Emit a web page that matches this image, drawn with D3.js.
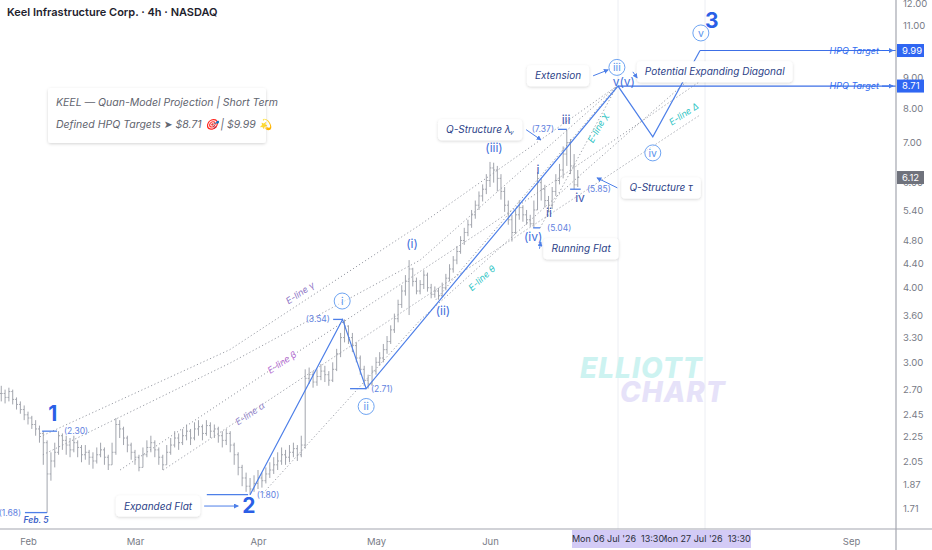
<!DOCTYPE html>
<html>
<head>
<meta charset="utf-8">
<script src="https://cdn.jsdelivr.net/npm/d3@7"></script>
<style>
  body { margin: 0; background: #fff; }
  svg { display: block; }
</style>
</head>
<body>
<script>
var w = 932;
var h = 550;
var plotRight = 896;
var plotBottom = 529;

// one bar per day, starting 25 Jan 2026 (bar i = 25 Jan + i days)
var closes = [
  2.66,2.62,2.68,2.60,2.55,2.50,2.45,2.42,2.36,2.32,
  2.28,2.20,1.95,2.05,2.12,2.26,2.22,2.18,2.14,2.20,
  2.16,2.10,2.12,2.08,2.05,2.10,2.14,2.08,2.02,2.12,
  2.36,2.32,2.24,2.18,2.12,2.08,2.00,2.10,2.16,2.20,
  2.14,2.08,2.02,2.12,2.18,2.24,2.20,2.26,2.30,2.24,
  2.32,2.34,2.28,2.35,2.30,2.32,2.26,2.22,2.28,2.18,
  2.10,2.00,1.92,1.86,1.84,1.88,1.92,1.90,1.95,1.98,
  2.02,2.05,2.10,2.08,2.12,2.15,2.10,2.18,2.82,2.86,
  2.78,2.84,2.90,2.86,2.80,2.92,3.10,3.30,3.45,3.30,
  3.20,3.05,2.92,2.80,2.76,2.90,3.00,3.05,3.15,3.25,
  3.40,3.55,3.75,3.95,4.10,4.30,4.10,3.95,4.05,4.20,
  4.00,3.90,3.95,3.88,4.00,4.15,4.30,4.45,4.60,4.80,
  4.95,5.10,5.30,5.50,5.70,5.85,6.05,6.35,6.30,6.10,
  5.80,5.50,5.20,4.95,5.30,5.45,5.30,5.20,5.12,5.40,
  6.00,5.85,5.60,5.50,5.80,6.05,6.30,6.70,7.00,6.40,
  5.95,6.12
];
var highs = [
  2.74,2.70,2.72,2.70,2.62,2.58,2.54,2.48,2.44,2.40,
  2.35,2.30,2.22,2.12,2.20,2.30,2.28,2.26,2.24,2.26,
  2.22,2.18,2.18,2.14,2.12,2.16,2.20,2.16,2.10,2.20,
  2.42,2.40,2.34,2.26,2.20,2.14,2.10,2.16,2.22,2.26,
  2.22,2.16,2.10,2.18,2.24,2.30,2.28,2.32,2.36,2.32,
  2.38,2.40,2.36,2.40,2.38,2.36,2.34,2.30,2.32,2.30,
  2.20,2.12,2.02,1.96,1.92,1.94,1.98,1.96,2.00,2.04,
  2.08,2.12,2.16,2.14,2.18,2.20,2.18,2.26,2.92,2.94,
  2.90,2.92,2.98,2.96,2.90,3.00,3.16,3.36,3.54,3.46,
  3.36,3.24,3.08,2.96,2.86,2.96,3.06,3.12,3.22,3.32,
  3.46,3.62,3.82,4.04,4.20,4.45,4.32,4.16,4.12,4.28,
  4.24,4.06,4.02,4.00,4.08,4.22,4.38,4.52,4.70,4.88,
  5.04,5.20,5.40,5.60,5.80,5.96,6.20,6.50,6.48,6.40,
  6.20,5.90,5.60,5.30,5.40,5.60,5.50,5.40,5.30,5.60,
  6.25,6.10,5.95,5.70,5.90,6.20,6.45,6.90,7.37,7.10,
  6.70,6.30
];
var lows = [
  2.58,2.56,2.58,2.55,2.50,2.46,2.40,2.36,2.32,2.26,
  2.20,2.02,1.68,1.90,2.00,2.10,2.14,2.10,2.08,2.12,
  2.08,2.04,2.06,2.02,1.99,2.03,2.08,2.02,1.98,2.02,
  2.10,2.24,2.18,2.12,2.06,2.02,1.97,2.00,2.08,2.12,
  2.08,2.02,1.98,2.02,2.10,2.16,2.14,2.18,2.22,2.18,
  2.22,2.26,2.22,2.26,2.24,2.24,2.20,2.16,2.18,2.12,
  2.02,1.94,1.86,1.82,1.80,1.82,1.84,1.85,1.88,1.92,
  1.95,1.98,2.02,2.02,2.04,2.08,2.05,2.08,2.15,2.76,
  2.72,2.74,2.80,2.78,2.74,2.78,2.90,3.06,3.24,3.22,
  3.12,3.00,2.86,2.74,2.71,2.74,2.86,2.96,3.00,3.10,
  3.22,3.36,3.50,3.70,3.88,3.60,4.02,3.90,3.90,3.98,
  3.94,3.84,3.85,3.82,3.86,3.96,4.10,4.24,4.38,4.56,
  4.72,4.88,5.04,5.22,5.40,5.58,5.74,5.90,6.00,5.80,
  5.62,5.36,5.10,4.78,4.92,5.20,5.16,5.10,5.06,5.04,
  5.40,5.60,5.45,5.35,5.42,5.70,5.96,6.10,6.40,6.20,
  5.85,5.90
];
var lastPrice = 6.12;

var priceTicks = [1.71, 1.87, 2.05, 2.25, 2.45, 2.70, 3.00, 3.30, 3.60, 4.00, 4.40, 4.80, 5.40, 6.00, 7.00, 8.00, 9.00, 11.00, 12.00];
var monthTicks = ["2026-02-01", "2026-03-01", "2026-04-01", "2026-05-01", "2026-06-01", "2026-09-01"];

// projected wave path and HPQ targets  [day, price]
var wavePath = [[64, 1.80], [87.5, 3.54], [93.5, 2.71], [162, 8.71], [170.4, 7.16], [181.8, 9.99]];
var targetPrices = [9.99, 8.71];
var targetFrom = [181.8, 162];

// dotted E-lines  [day, price]
var lineGamma = [[10.1, 2.25], [58.9, 3.15], [108, 5.10], [161.7, 8.71]];
var lineUpper = [[10.9, 2.10], [58.9, 2.99], [108, 4.45], [161.7, 8.71]];
var lineBeta = [[31.1, 1.98], [72.1, 3.00], [124.3, 4.96], [182.3, 8.92]];
var lineAlpha = [[42.1, 1.98], [181.8, 7.79]];
var lineTheta = [[67.3, 1.81], [108, 3.53], [150.8, 6.11], [182.3, 9.34]];
var lineChi = [[140.7, 5.04], [161.7, 8.71]];
var lineInner = [[112.3, 3.82], [161.7, 8.71]];

var eLineNames = ["E-line γ", "E-line β", "E-line α", "E-line θ", "E-line χ", "E-line Δ"];
var eLineLabelAt = [[76.7, 3.92], [72.1, 3.00], [64, 2.46], [124.8, 4.15], [156.5, 7.41], [177.9, 7.82]];
var eLineColors = ["#8a72c4", "#b36ad2", "#8f7fc9", "#2cc3c3", "#2cc3c3", "#2cc3c3"];

// wave labels
var degreeNames = ["1", "2", "3"];
var degreeAt = [[13.5, 2.46], [63.7, 1.723], [184.7, 11.2]];
var circledNames = ["i", "ii", "iii", "iv", "v"];
var circledAt = [[87.4, 3.80], [93.5, 2.53], [161.7, 9.36], [170.4, 6.73], [182.0, 10.69]];
var waveNames = ["(i)", "(ii)", "(iii)", "(iv)", "i", "ii", "iii", "iv", "v(v)"];
var waveAt = [[105.8, 4.74], [114.2, 3.66], [128.1, 6.86], [138.8, 4.87], [140.1, 6.30], [143.1, 5.34], [147.8, 7.65], [151.6, 5.66], [163.4, 8.86]];

// pivot price marks
var markPrices = [2.30, 1.68, 1.80, 3.54, 2.71, 5.04, 7.37, 5.85];
var markFrom = [10.7, 6.2, 53.1, 85.1, 89.4, 138.8, 145.6, 148.9];
var markTo = [14.6, 12.0, 63.5, 87.4, 93.5, 140.7, 148.0, 151.8];
var markTextDay = [16.4, 5.2, 65.7, 84.3, 94.7, 142.6, 144.5, 153.5];
var markAnchor = ["start", "end", "start", "end", "start", "start", "end", "start"];

// note boxes
var noteTexts = ["Expanded Flat", "Extension", "Potential Expanding Diagonal", "Q-Structure λᵧ", "Q-Structure τ", "Running Flat"];
var noteAt = [[40.8, 1.723], [145.6, 9.06], [185.4, 9.20], [124.3, 7.36], [172.4, 5.88], [151.9, 4.65]];
var noteTip = [[61.0, 1.723], [159.3, 9.27], [166.6, 8.99], [140.9, 7.08], [156.3, 6.11], [140.9, 4.77]];

var cursorDays = ["2026-07-27", "2026-07-06"];
var cursorText = ["Mon 27 Jul '26", "Mon 06 Jul '26"];

var parseDay = d3.utcParse("%Y-%m-%d");
var base = Date.UTC(2026, 0, 25);
function day(t) { return new Date(base + t * 864e5); }

// piecewise time scale: bars skip the weekends on the original chart
var x = d3.scaleTime()
  .domain(["2026-02-01", "2026-03-01", "2026-04-01", "2026-05-01", "2026-06-01", "2026-07-06", "2026-07-27", "2026-09-01"].map(parseDay))
  .range([28, 135, 258, 376, 490, 618, 705, 851]);

var y = d3.scaleLog()
  .domain([1.71, 12])
  .range([508, 3]);

function pt(d) { return [x(day(d[0])), y(d[1])]; }

var blue = "#4d7fe8";
var font = "Inter, 'Noto Sans', 'DejaVu Sans', sans-serif";

var svg = d3.select("body").append("svg")
  .attr("width", w)
  .attr("height", h)
  .style("font-family", font);

var defs = svg.append("defs");
defs.append("filter").attr("id", "shadow")
  .attr("x", "-20%").attr("y", "-40%").attr("width", "140%").attr("height", "190%")
  .append("feDropShadow")
  .attr("dx", 0).attr("dy", 1).attr("stdDeviation", 1.6)
  .attr("flood-color", "#000").attr("flood-opacity", 0.17);
defs.append("marker").attr("id", "arrow")
  .attr("viewBox", "0 0 6 6").attr("refX", 5).attr("refY", 3)
  .attr("markerWidth", 5).attr("markerHeight", 5).attr("orient", "auto")
  .append("path").attr("d", "M0,0L6,3L0,6Z").attr("fill", blue);
defs.append("clipPath").attr("id", "plot")
  .append("rect").attr("x", 0).attr("y", 0).attr("width", plotRight).attr("height", plotBottom);

var plot = svg.append("g").attr("clip-path", "url(#plot)");

// faint session lines at the cursor dates
plot.selectAll(".vline")
  .data(cursorDays)
  .enter()
  .append("line")
  .attr("x1", function(d) { return x(parseDay(d)); })
  .attr("x2", function(d) { return x(parseDay(d)); })
  .attr("y1", 0)
  .attr("y2", plotBottom)
  .attr("stroke", "#eceef3");

// watermark
plot.append("text")
  .attr("x", 580).attr("y", 378)
  .attr("font-size", 28).attr("font-weight", 800).attr("font-style", "italic")
  .attr("letter-spacing", 1)
  .attr("fill", "#cdf3f1")
  .text("ELLIOTT");
plot.append("text")
  .attr("x", 620).attr("y", 402)
  .attr("font-size", 28).attr("font-weight", 800).attr("font-style", "italic")
  .attr("letter-spacing", 1)
  .attr("fill", "#e6e2f9")
  .text("CHART");

// OHLC bars
var bars = closes.map(function(c, i) {
  return { t: i, high: highs[i], low: lows[i], open: i ? closes[i - 1] : c, close: c };
});

plot.selectAll(".bar")
  .data(bars)
  .enter()
  .append("path")
  .attr("d", function(d) {
    var cx = x(day(d.t));
    return "M" + cx + "," + y(d.high) + "V" + y(d.low) +
           "M" + (cx - 1.4) + "," + y(d.open) + "H" + cx +
           "M" + cx + "," + y(d.close) + "H" + (cx + 1.4);
  })
  .attr("stroke", "#a2a5ad")
  .attr("stroke-width", 1)
  .attr("fill", "none");

// dotted E-lines
var dotted = [lineGamma, lineBeta, lineAlpha, lineTheta, lineChi, lineInner, lineUpper];
var lineGen = d3.line().x(function(d) { return pt(d)[0]; }).y(function(d) { return pt(d)[1]; });

plot.selectAll(".eline")
  .data(dotted)
  .enter()
  .append("path")
  .attr("d", lineGen)
  .attr("fill", "none")
  .attr("stroke", "#9a9da6")
  .attr("stroke-width", 1)
  .attr("stroke-dasharray", "1.2,2.4");

// E-line labels follow the slope of their line
var labelLines = [lineGamma, lineBeta, lineAlpha, lineTheta, lineChi, lineAlpha];
eLineNames.forEach(function(name, i) {
  var l = labelLines[i];
  var at = eLineLabelAt[i];
  var k = 0;
  while (k < l.length - 2 && l[k + 1][0] < at[0]) k++;
  var a = pt(l[k]), b = pt(l[k + 1]);
  var ang = Math.atan2(b[1] - a[1], b[0] - a[0]) * 180 / Math.PI;
  var p = pt(at);
  plot.append("text")
    .attr("transform", "translate(" + p[0] + "," + p[1] + ") rotate(" + ang + ")")
    .attr("text-anchor", "middle")
    .attr("dy", "0.35em")
    .attr("font-size", 9)
    .attr("font-style", "italic")
    .attr("fill", eLineColors[i])
    .text(name);
});

// solid wave path
plot.append("path")
  .attr("d", lineGen(wavePath))
  .attr("fill", "none")
  .attr("stroke", blue)
  .attr("stroke-width", 1.2);

// HPQ target levels
targetPrices.forEach(function(p, i) {
  plot.append("line")
    .attr("x1", x(day(targetFrom[i])))
    .attr("x2", plotRight)
    .attr("y1", y(p))
    .attr("y2", y(p))
    .attr("stroke", "#3d6fe6")
    .attr("stroke-width", 1.2);
});

// pivot marks
markPrices.forEach(function(p, i) {
  plot.append("line")
    .attr("x1", x(day(markFrom[i])))
    .attr("x2", x(day(markTo[i])))
    .attr("y1", y(p))
    .attr("y2", y(p))
    .attr("stroke", blue)
    .attr("stroke-width", 1.3);
  plot.append("text")
    .attr("x", x(day(markTextDay[i])))
    .attr("y", y(p))
    .attr("dy", "0.35em")
    .attr("text-anchor", markAnchor[i])
    .attr("font-size", 8.5)
    .attr("fill", "#5f82e0")
    .text("(" + d3.format(".2f")(p) + ")");
});

plot.append("text")
  .attr("x", x(day(9.1)))
  .attr("y", y(1.633))
  .attr("dy", "0.35em")
  .attr("text-anchor", "middle")
  .attr("font-size", 8.5)
  .attr("font-weight", 600)
  .attr("font-style", "italic")
  .attr("fill", "#3d63c9")
  .text("Feb. 5");

// degree numbers
degreeNames.forEach(function(name, i) {
  var p = pt(degreeAt[i]);
  plot.append("text")
    .attr("x", p[0]).attr("y", p[1])
    .attr("dy", "0.35em")
    .attr("text-anchor", "middle")
    .attr("font-size", 21)
    .attr("font-weight", 700)
    .attr("fill", "#2b5fe6")
    .text(name);
});

// circled minor waves
circledNames.forEach(function(name, i) {
  var p = pt(circledAt[i]);
  plot.append("circle")
    .attr("cx", p[0]).attr("cy", p[1]).attr("r", 8)
    .attr("fill", "#fff").attr("fill-opacity", 0.6)
    .attr("stroke", "#6ea4f2").attr("stroke-width", 1);
  plot.append("text")
    .attr("x", p[0]).attr("y", p[1])
    .attr("dy", "0.35em")
    .attr("text-anchor", "middle")
    .attr("font-size", 10.5)
    .attr("fill", "#5c96ee")
    .text(name);
});

// intermediate waves
waveNames.forEach(function(name, i) {
  var p = pt(waveAt[i]);
  plot.append("text")
    .attr("x", p[0]).attr("y", p[1])
    .attr("dy", "0.35em")
    .attr("text-anchor", "middle")
    .attr("font-size", 12)
    .attr("fill", i >= 4 && i <= 7 ? "#3d55b0" : "#4270dc")
    .text(name);
});

// note boxes with arrows
noteTexts.forEach(function(txt, i) {
  var c = pt(noteAt[i]);
  var tip = pt(noteTip[i]);
  var g = plot.append("g");
  var t = g.append("text")
    .attr("x", c[0]).attr("y", c[1])
    .attr("dy", "0.35em")
    .attr("text-anchor", "middle")
    .attr("font-size", 10)
    .attr("font-style", "italic")
    .attr("fill", "#2c3f88")
    .text(txt);
  var bw = t.node().getComputedTextLength() + 16;
  var bh = 21;
  g.insert("rect", "text")
    .attr("x", c[0] - bw / 2).attr("y", c[1] - bh / 2)
    .attr("width", bw).attr("height", bh)
    .attr("rx", 4)
    .attr("fill", "#fff")
    .attr("filter", "url(#shadow)");
  var sx = tip[0] > c[0] ? c[0] + bw / 2 + 4 : c[0] - bw / 2 - 4;
  plot.append("line")
    .attr("x1", sx).attr("y1", c[1])
    .attr("x2", tip[0]).attr("y2", tip[1])
    .attr("stroke", blue)
    .attr("stroke-width", 1)
    .attr("marker-end", "url(#arrow)");
});

// info box
var info = svg.append("g");
info.append("rect")
  .attr("x", 48).attr("y", 88).attr("width", 218).attr("height", 55)
  .attr("rx", 3)
  .attr("fill", "#fff")
  .attr("filter", "url(#shadow)");
info.append("text")
  .attr("x", 56).attr("y", 106)
  .attr("font-size", 10.5).attr("font-style", "italic").attr("fill", "#62656f")
  .text("KEEL — Quan-Model Projection | Short Term");
info.append("text")
  .attr("x", 56).attr("y", 128)
  .attr("font-size", 10.5).attr("font-style", "italic").attr("fill", "#62656f")
  .text("Defined HPQ Targets ➤  $8.71 🎯 |  $9.99 💫");

// title
svg.append("text")
  .attr("x", 7).attr("y", 16)
  .attr("font-size", 11).attr("font-weight", 600).attr("fill", "#1e222d")
  .text("Keel Infrastructure Corp. · 4h · NASDAQ");

// price axis
var yAxis = d3.axisRight(y)
  .tickValues(priceTicks)
  .tickFormat(d3.format(".2f"))
  .tickSize(0)
  .tickPadding(7);

var yg = svg.append("g")
  .attr("transform", "translate(" + plotRight + ",0)")
  .call(yAxis);
yg.select(".domain").remove();
yg.selectAll("text").attr("font-size", 9.5).attr("fill", "#787b86").attr("font-family", font);

// time axis
var xAxis = d3.axisBottom(x)
  .tickValues(monthTicks.map(parseDay))
  .tickFormat(d3.utcFormat("%b"))
  .tickSize(0)
  .tickPadding(9);

var xg = svg.append("g")
  .attr("transform", "translate(0," + plotBottom + ")")
  .call(xAxis);
xg.select(".domain").remove();
xg.selectAll("text").attr("font-size", 9.5).attr("fill", "#787b86").attr("font-family", font);

svg.append("line")
  .attr("x1", plotRight).attr("x2", plotRight)
  .attr("y1", 0).attr("y2", h)
  .attr("stroke", "#a3a6af").attr("stroke-width", 1.2);
svg.append("line")
  .attr("x1", 0).attr("x2", w)
  .attr("y1", plotBottom).attr("y2", plotBottom)
  .attr("stroke", "#a3a6af").attr("stroke-width", 1.2);

// cursor date tags on the time axis
cursorDays.forEach(function(d, i) {
  var cx = x(parseDay(d));
  svg.append("rect")
    .attr("x", cx - 46).attr("y", plotBottom + 1)
    .attr("width", 92).attr("height", 18)
    .attr("fill", "#d3cbf6");
  svg.append("text")
    .attr("x", cx).attr("y", plotBottom + 13)
    .attr("text-anchor", "middle")
    .attr("font-size", 9).attr("fill", "#2a2e39")
    .attr("xml:space", "preserve")
    .text(cursorText[i] + "  13:30");
});

// target tags
targetPrices.forEach(function(p) {
  svg.append("text")
    .attr("x", 879).attr("y", y(p))
    .attr("dy", "0.35em")
    .attr("text-anchor", "end")
    .attr("font-size", 9).attr("font-style", "italic").attr("fill", "#2f6bf0")
    .text("HPQ Target");
  svg.append("line")
    .attr("x1", 882).attr("x2", 893)
    .attr("y1", y(p)).attr("y2", y(p))
    .attr("stroke", "#2f6bf0").attr("stroke-width", 1)
    .attr("marker-end", "url(#arrow)");
  svg.append("rect")
    .attr("x", plotRight + 1).attr("y", y(p) - 6.5)
    .attr("width", 27).attr("height", 13)
    .attr("fill", "#2f66f2");
  svg.append("text")
    .attr("x", plotRight + 6).attr("y", y(p))
    .attr("dy", "0.35em")
    .attr("font-size", 9.5).attr("fill", "#fff")
    .text(d3.format(".2f")(p));
});

// last price tag
svg.append("rect")
  .attr("x", plotRight + 1).attr("y", y(lastPrice) - 6.5)
  .attr("width", 27).attr("height", 13)
  .attr("fill", "#6f727c");
svg.append("text")
  .attr("x", plotRight + 6).attr("y", y(lastPrice))
  .attr("dy", "0.35em")
  .attr("font-size", 9.5).attr("fill", "#fff")
  .text(d3.format(".2f")(lastPrice));
</script>
</body>
</html>
